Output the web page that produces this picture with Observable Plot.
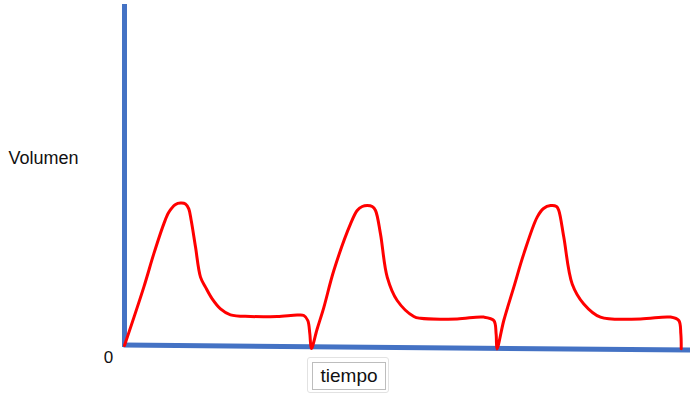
<!DOCTYPE html>
<html>
<head>
<meta charset="utf-8">
<script src="https://cdn.jsdelivr.net/npm/d3@7"></script>
<script src="https://cdn.jsdelivr.net/npm/@observablehq/plot@0.6"></script>
<style>
  html, body { margin: 0; padding: 0; background: #fff; }
  #wrap { position: relative; width: 690px; height: 395px; font-family: "Liberation Sans", Arial, sans-serif; }
  #wrap svg { display: block; }
  #tbox { position: absolute; left: 307px; top: 357px; width: 82px; height: 36px; border: 1px solid #e2e2e2; border-radius: 3px; box-sizing: border-box; }
  #tinner { position: absolute; left: 4px; top: 4px; width: 74px; height: 28px; border: 1px solid #bdbdbd; box-sizing: border-box; display: flex; align-items: center; justify-content: center; font-size: 19px; color: #111; }
</style>
</head>
<body>
<div id="wrap"></div>
<script>
// Time (s) and volume (mL) of the red volume–time trace
const time = [
  0, 0.31, 0.47, 0.631, 0.711, 0.819, 0.899, 0.979, 1.032, 1.071, 1.14, 1.22, 1.30, 1.408, 1.541, 1.701, 2.022, 2.451, 2.772, 2.878, 2.942, 2.975,
  3.0, 3.09, 3.2, 3.36, 3.628, 3.735, 3.816, 3.896, 3.976, 4.029, 4.109, 4.217, 4.377, 4.644, 4.751, 5.34, 5.767, 5.928, 5.965,
  5.979, 6.088, 6.249, 6.409, 6.624, 6.726, 6.838, 6.934, 6.971, 7.051, 7.186, 7.372, 7.64, 8.283, 8.764, 8.897, 8.930, 8.936
];
const volume = [
  0, 292, 458, 608, 666, 705, 712, 708, 683, 625, 492, 342, 292, 233, 183, 153, 145, 145, 152, 150, 125, 58,
  -15, 80, 191, 375, 608, 675, 695, 700, 695, 675, 558, 342, 225, 145, 136, 133, 142, 125, 58,
  -17, 125, 292, 458, 642, 685, 700, 695, 675, 542, 308, 208, 142, 133, 142, 125, 58, -16
];
// Axis lines (hand-drawn, slightly sloped time axis)
const xAxisTime = [-0.016, 9.085];
const xAxisVolume = [2.5, -22.5];
const yAxisVolume = [-10, 1705];

const yLabel = "Volumen";
const xLabel = "tiempo";
const originLabel = "0";

const trace = time.map((t, i) => ({t, v: volume[i]}));
const baseLine = xAxisTime.map((t, i) => ({t, v: xAxisVolume[i]}));

const chart = Plot.plot({
  width: 690,
  height: 395,
  marginLeft: 124,
  marginRight: 0,
  marginTop: 4,
  marginBottom: 50,
  x: {domain: [0, 9.085], axis: null},
  y: {domain: [0, 1705], axis: null},
  style: {fontFamily: "'Liberation Sans', Arial, sans-serif", background: "#fff"},
  marks: [
    Plot.line(baseLine, {x: "t", y: "v", stroke: "#4472C4", strokeWidth: 5, strokeLinecap: "butt"}),
    Plot.ruleX([0], {y1: yAxisVolume[0], y2: yAxisVolume[1], stroke: "#4472C4", strokeWidth: 5}),
    Plot.line(trace, {x: "t", y: "v", stroke: "#FF0000", strokeWidth: 3, curve: "catmull-rom"}),
    Plot.text([yLabel], {frameAnchor: "top-left", dx: -116, dy: 154, textAnchor: "start", lineAnchor: "middle", fontSize: 18, fill: "#111"}),
    Plot.text([originLabel], {frameAnchor: "bottom-left", dx: -16, dy: 12, textAnchor: "middle", lineAnchor: "middle", fontSize: 17, fill: "#111"})
  ]
});

const wrap = document.getElementById("wrap");
wrap.appendChild(chart);
const box = document.createElement("div");
box.id = "tbox";
const inner = document.createElement("div");
inner.id = "tinner";
inner.textContent = xLabel;
box.appendChild(inner);
wrap.appendChild(box);
</script>
</body>
</html>
